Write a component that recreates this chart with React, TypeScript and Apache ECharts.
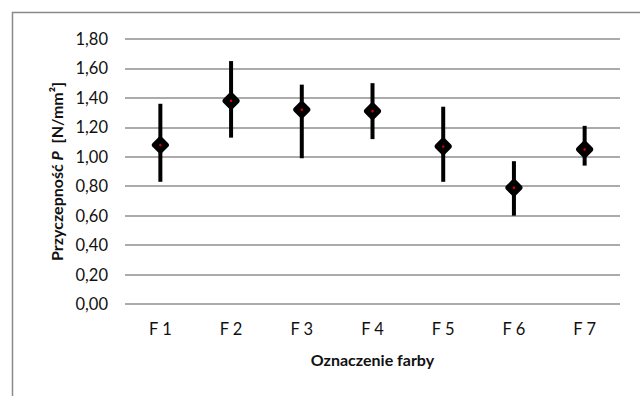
import React, { useEffect, useRef } from "react";
import * as echarts from "echarts";

const categories = ["F 1", "F 2", "F 3", "F 4", "F 5", "F 6", "F 7"];
const means = [1.08, 1.38, 1.32, 1.31, 1.07, 0.79, 1.05];
const upper = [1.36, 1.65, 1.49, 1.5, 1.34, 0.97, 1.21];
const lower = [0.83, 1.13, 0.99, 1.12, 0.83, 0.6, 0.94];

const FONT = "Lato";

export default function App() {
  const ref = useRef<HTMLDivElement>(null);
  useEffect(() => {
    if (!ref.current) return;
    const chart = echarts.init(ref.current, null, { renderer: "svg" });
    chart.setOption({
      animation: false,
      backgroundColor: "#fff",
      textStyle: { fontFamily: FONT },
      graphic: [
        {
          type: "rect",
          left: 10,
          top: 10,
          shape: { width: 700, height: 500 },
          style: { fill: "none", stroke: "#8a8a8a", lineWidth: 1.5 },
          silent: true,
        },
      ],
      grid: { left: 125, right: 20, top: 39, bottom: 92 },
      xAxis: {
        type: "category",
        data: categories,
        axisLine: { show: false },
        axisTick: { show: false },
        axisLabel: { fontFamily: FONT, fontSize: 16.5, color: "#111", margin: 16 },
        name: "Oznaczenie farby",
        nameLocation: "middle",
        nameGap: 47,
        nameTextStyle: { fontFamily: FONT, fontSize: 16, fontWeight: "bold", color: "#111" },
      },
      yAxis: {
        type: "value",
        min: 0,
        max: 1.8,
        interval: 0.2,
        axisLine: { show: false },
        axisTick: { show: false },
        splitLine: { lineStyle: { color: "#8f8f8f", width: 1.5 } },
        axisLabel: {
          fontFamily: FONT,
          fontSize: 16.5,
          color: "#111",
          margin: 17,
          formatter: (v: number) => v.toFixed(2).replace(".", ","),
        },
        name: "{a|Przyczepność }{i|P}{a|  [N/mm²]}",
        nameLocation: "middle",
        nameRotate: 90,
        nameGap: 61,
        nameTextStyle: {
          rich: {
            a: { fontFamily: FONT, fontSize: 16, fontWeight: "bold", color: "#111" },
            i: { fontFamily: FONT, fontSize: 16, fontWeight: "bold", fontStyle: "italic", color: "#111" },
          },
        },
      },
      series: [
        {
          type: "custom",
          data: categories.map((_, i) => [i, lower[i], upper[i]]),
          renderItem: (params: any, api: any) => {
            const x = api.value(0);
            const lo = api.coord([x, api.value(1)]);
            const hi = api.coord([x, api.value(2)]);
            return {
              type: "line",
              shape: { x1: lo[0], y1: lo[1], x2: hi[0], y2: hi[1] },
              style: { stroke: "#000", lineWidth: 4 },
            };
          },
          z: 2,
        },
        {
          type: "scatter",
          data: means,
          symbol: "diamond",
          symbolSize: 11,
          itemStyle: { color: "#000", borderColor: "#000", borderWidth: 6, borderJoin: "round", opacity: 1 },
          z: 3,
        },
        {
          type: "scatter",
          data: means,
          symbol: "circle",
          symbolSize: 2.5,
          itemStyle: { color: "#e00000", opacity: 1 },
          z: 4,
        },
      ],
    });
    return () => chart.dispose();
  }, []);
  return (
    <div
      ref={ref}
      style={{ position: "fixed", left: 0, top: 0, width: 640, height: 396 }}
    />
  );
}
